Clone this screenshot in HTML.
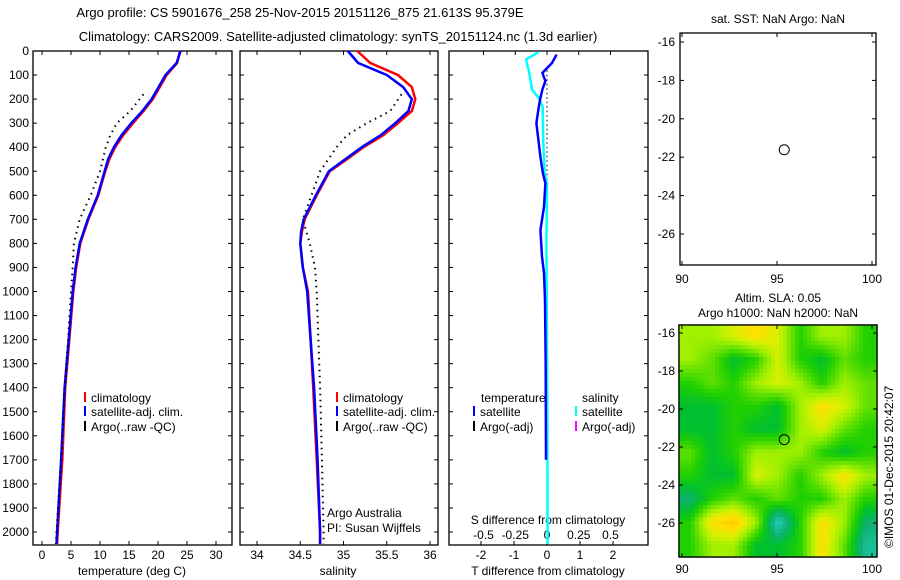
<!DOCTYPE html>
<html><head><meta charset="utf-8"><style>
body{margin:0;background:#fff;}
svg{display:block;font-family:"Liberation Sans",sans-serif;font-size:12px;}
</style></head><body>
<svg id="fig" width="900" height="580" viewBox="0 0 900 580" xmlns="http://www.w3.org/2000/svg">
<rect width="900" height="580" fill="#fff"/>
<text x="300" y="17" text-anchor="middle" font-size="13">Argo profile: CS 5901676_258 25-Nov-2015 20151126_875 21.613S 95.379E</text>
<text x="338" y="41" text-anchor="middle" font-size="13">Climatology: CARS2009. Satellite-adjusted climatology: synTS_20151124.nc (1.3d earlier)</text>
<text x="778" y="23" text-anchor="middle">sat. SST: NaN Argo: NaN</text>
<text x="778" y="302" text-anchor="middle">Altim. SLA: 0.05</text>
<text x="778" y="317" text-anchor="middle">Argo h1000: NaN h2000: NaN</text>
<text transform="translate(893,548) rotate(-90)" font-size="12">©IMOS 01-Dec-2015 20:42:07</text>
<text x="327" y="517">Argo Australia</text>
<text x="327" y="532">PI: Susan Wijffels</text>
<text x="132" y="575" text-anchor="middle">temperature (deg C)</text>
<text x="338" y="575" text-anchor="middle">salinity</text>
<text x="548" y="575" text-anchor="middle">T difference from climatology</text>
<text x="548" y="524" text-anchor="middle">S difference from climatology</text>
<g id="g"></g>
</svg>
<script>
// ---- data ----
const depthTicks=[0,100,200,300,400,500,600,700,800,900,1000,1100,1200,1300,1400,1500,1600,1700,1800,1900,2000];
const tempTicks=[0,5,10,15,20,25,30];
const salTicks=[34,34.5,35,35.5,36];
const tdTicks=[-2,-1,0,1,2];
const sdTicks=[-0.5,-0.25,0,0.25,0.5];
const sdTickLabels=["-0.5","-0.25","0","0.25","0.5"];
const profDepths=[0,50,100,150,200,250,300,350,400,450,500,600,700,750,800,900,1000,1200,1400,1700,2000,2050];
const tempClim=[23.8,23.3,21.5,20.3,19.1,17.5,15.7,14.0,12.6,11.6,10.9,9.7,8.0,7.3,6.6,5.9,5.4,4.7,4.0,3.5,2.7,2.6];
const tempSat=[23.9,23.2,21.3,20.1,18.9,17.3,15.4,13.7,12.4,11.4,10.8,9.6,7.9,7.2,6.5,5.8,5.3,4.6,3.9,3.3,2.6,2.5];
const argoDepths=[180,250,300,350,400,500,600,700,800,900,1000,1200,1400,1700,2000,2050];
const tempArgo=[17.5,15.2,12.9,11.8,11.0,10.0,8.4,6.5,5.5,5.3,5.0,4.5,3.9,3.3,2.5,2.4];
const salClim=[35.16,35.31,35.63,35.79,35.83,35.79,35.63,35.46,35.23,35.04,34.84,34.69,34.55,34.52,34.50,34.53,34.59,34.62,34.65,34.69,34.73,34.73];
const salSat=[35.05,35.17,35.50,35.69,35.79,35.75,35.60,35.43,35.21,35.02,34.83,34.68,34.54,34.51,34.50,34.53,34.58,34.62,34.66,34.70,34.73,34.73];
const salArgo=[35.67,35.54,35.27,35.04,34.92,34.73,34.63,34.53,34.61,34.67,34.69,34.71,34.73,34.75,34.77,34.77];
const diffDepths=[15,50,91,125,160,195,232,300,370,440,510,550,648,745,855,923,1035,1300,1700];
const tDiffSat=[0.29,0.15,-0.14,-0.05,-0.14,-0.2,-0.25,-0.32,-0.26,-0.2,-0.12,-0.05,-0.09,-0.2,-0.15,-0.09,-0.06,-0.04,-0.03];
const sDiffDepths=[5,35,91,160,195,232,370,510,550,800,1200,1600,2000,2050];
const sDiffSat=[-0.066,-0.165,-0.139,-0.118,-0.066,-0.034,-0.03,-0.018,0,-0.005,0,0.003,0.005,0.005];
const lonTicks=[90,95,100];
const sstLatTicks=[-16,-18,-20,-22,-24,-26];
const slaLatTicks=[-16,-18,-20,-22,-24,-26];
const floatLon=[95.379];
const floatLat=[-21.613];
const slaGrid=[
[2,2,2.5,3,2.5,1,2,2,1],
[2,1.5,0.5,1,2.5,1,0.5,1.5,1],
[1,1.5,1,2,2.5,2,1,2,1.5],
[0.5,0.5,1,1,0.5,2,3,2.5,1.5],
[0.5,0.5,1,0.5,0.5,2,2.5,1.5,1],
[1.5,0.5,1,2,2,2,1,0.5,1],
[1,0.5,0.5,2.5,2,1,2,3,2],
[0,1,1.5,1,1.5,1,1,2,1],
[1,3,3.5,2,-1,1,3,2,0],
[1,2,2,0.5,0.5,1,3,1.5,-0.5]];
// ---- scales ----
const yD=d=>51+d*0.2405;
const xT=t=>42+t*5.8;
const xS=s=>257+(s-34)*86.5;
const xTD=t=>547+t*33;
const xSD=s=>547+s*127;
const mapX=l=>682+(l-90)*19;
const sstY=la=>42+(-16-la)*19.2;
const slaY=la=>333+(-16-la)*19;
const NS='http://www.w3.org/2000/svg';
const G=document.getElementById('g');
function mk(tag,at){const e=document.createElementNS(NS,tag);for(const k in at)e.setAttribute(k,at[k]);G.appendChild(e);return e;}
function txt(x,y,s,anchor){const e=mk('text',{x:x,y:y,'text-anchor':anchor||'middle'});e.textContent=s;return e;}
const panels=[[33,51,199,494,'temperature-panel'],[240,51,198,494,'salinity-panel'],[449,51,199,494,'difference-panel'],[680,33,196,232,'sst-map'],[679,325,198,232,'sla-map']];
panels.forEach(p=>{const r=mk('rect',{x:p[0],y:p[1],width:p[2],height:p[3],fill:'none',stroke:'#000','stroke-width':1.3});

});
// heatmap
function cmap(v){const st=[[-1,[32,208,192]],[0,[16,176,112]],[0.5,[0,192,48]],[1,[32,208,0]],[2,[160,240,0]],[2.5,[216,240,0]],[3,[255,224,0]],[3.5,[255,200,0]]];
if(v<=st[0][0])return 'rgb('+st[0][1]+')';for(let i=1;i<st.length;i++){if(v<=st[i][0]){const a=st[i-1],b=st[i],f=(v-a[0])/(b[0]-a[0]);return 'rgb('+a[1].map((c,j)=>Math.round(c+(b[1][j]-c)*f)).join(',')+')';}}return 'rgb('+st[st.length-1][1]+')';}
const R=slaGrid.length,C=slaGrid[0].length,hx0=679,hy0=325,hw=198,hh=232,cs=4;
for(let py=0;py<hh;py+=cs){for(let px=0;px<hw;px+=cs){
 const gx=Math.min(Math.max((px+cs/2)/hw*C-0.5,0),C-1),gy=Math.min(Math.max((py+cs/2)/hh*R-0.5,0),R-1);
 const i0=Math.floor(gx),j0=Math.floor(gy),i1=Math.min(i0+1,C-1),j1=Math.min(j0+1,R-1),fx=gx-i0,fy=gy-j0;
 const v=(slaGrid[j0][i0]*(1-fx)+slaGrid[j0][i1]*fx)*(1-fy)+(slaGrid[j1][i0]*(1-fx)+slaGrid[j1][i1]*fx)*fy;
 const c=mk('rect',{x:hx0+px,y:hy0+py,width:Math.min(cs+0.3,hw-px),height:Math.min(cs+0.3,hh-py),fill:cmap(v)});
 
 
}}
const fr=mk('rect',{x:679,y:325,width:198,height:232,fill:'none',stroke:'#000','stroke-width':1.3});


depthTicks.forEach(d=>{const y=yD(d);
 const l=txt(29,y+4,String(d),'end');
 
 
 [[33,232],[240,438],[449,648]].forEach(p=>{mk('line',{x1:p[0],x2:p[0]+4,y1:y,y2:y,stroke:'#000'});mk('line',{x1:p[1]-4,x2:p[1],y1:y,y2:y,stroke:'#000'});});
});
function xticks(vals,labels,f,yl,tickTop){vals.forEach((v,i)=>{const x=f(v);
 mk('line',{x1:x,x2:x,y1:545,y2:541,stroke:'#000'});
 if(tickTop)mk('line',{x1:x,x2:x,y1:51,y2:55,stroke:'#000'});
 const l=txt(x,yl,labels[i]);
 
 });}
xticks(tempTicks,tempTicks.map(String),xT,559,true);
xticks(salTicks,salTicks.map(String),xS,559,true);
xticks(tdTicks,tdTicks.map(String),xTD,559,false);
sdTicks.forEach((v,i)=>{const x=xSD(v);mk('line',{x1:x,x2:x,y1:51,y2:55,stroke:'#000'});
 const l=txt(x,539,sdTickLabels[i]);
 
 });
lonTicks.forEach(l=>{const x=mapX(l);
 mk('line',{x1:x,x2:x,y1:265,y2:261,stroke:'#000'});mk('line',{x1:x,x2:x,y1:33,y2:37,stroke:'#000'});
 mk('line',{x1:x,x2:x,y1:557,y2:553,stroke:'#000'});mk('line',{x1:x,x2:x,y1:325,y2:329,stroke:'#000'});
 const a=txt(x,283,String(l));
 const b=txt(x,573,String(l));});
sstLatTicks.forEach(la=>{const y=sstY(la);mk('line',{x1:680,x2:684,y1:y,y2:y,stroke:'#000'});mk('line',{x1:872,x2:876,y1:y,y2:y,stroke:'#000'});
 const t=txt(675,y+4,String(la),'end');});
slaLatTicks.forEach(la=>{const y=slaY(la);mk('line',{x1:679,x2:683,y1:y,y2:y,stroke:'#000'});mk('line',{x1:873,x2:877,y1:y,y2:y,stroke:'#000'});
 const t=txt(675,y+4,String(la),'end');});
const m1=mk('circle',{cx:mapX(floatLon[0]),cy:sstY(floatLat[0]),r:5,fill:'none',stroke:'#000'});


const m2=mk('circle',{cx:mapX(floatLon[0]),cy:slaY(floatLat[0]),r:5,fill:'none',stroke:'#000'});


const z=mk('line',{x1:xTD(0),x2:xTD(0),y1:yD(80),y2:yD(1900),stroke:'#000','stroke-dasharray':'1.5 3'});


function line(ds,vs,fx,color,w,dash){const pts=ds.map((d,i)=>fx(vs[i]).toFixed(1)+','+yD(d).toFixed(1)).join(' ');
 const a={points:pts,fill:'none',stroke:color,'stroke-width':w,'stroke-linejoin':'round'};if(dash)a['stroke-dasharray']=dash;return mk('polyline',a);}
let s;
s=line(profDepths,tempClim,xT,'#f00',2.5);
s=line(profDepths,tempSat,xT,'#00f',2.5);
s=line(argoDepths,tempArgo,xT,'#000',2,'1.5 4.5');
s=line(profDepths,salClim,xS,'#f00',2.5);
s=line(profDepths,salSat,xS,'#00f',2.5);
s=line(argoDepths,salArgo,xS,'#000',2,'1.5 4.5');
s=line(sDiffDepths,sDiffSat,xSD,'#0ff',2.5);
s=line(diffDepths,tDiffSat,xTD,'#00f',2.5);
function leg(x,y,color,label){const b=mk('line',{x1:x,x2:x,y1:y-10,y2:y,stroke:color,'stroke-width':2});
 
 const t=txt(x+6,y,label,'start');}
[[85],[337]].forEach(p=>{leg(p[0],402,'#f00','climatology');leg(p[0],416,'#00f','satellite-adj. clim.');leg(p[0],431,'#000','Argo(..raw -QC)');});
let t=txt(481,402,'temperature','start');
t=txt(582,402,'salinity','start');
leg(474,416,'#00f','satellite');leg(474,431,'#000','Argo(-adj)');
leg(576,416,'#0ff','satellite');leg(576,431,'#f0f','Argo(-adj)');
</script>
</body></html>
